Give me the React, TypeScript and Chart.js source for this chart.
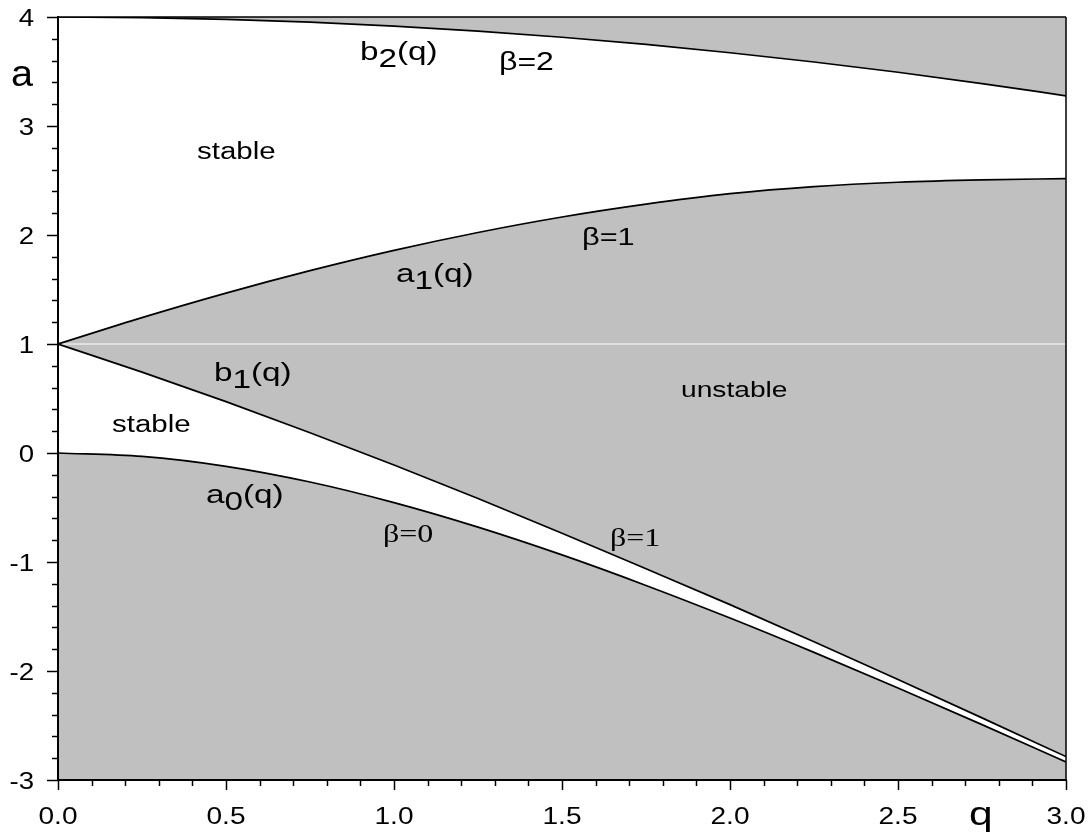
import React, { useEffect, useRef } from "react";
import { Chart, registerables } from "chart.js";

Chart.register(...registerables);

// ---- data ----
const qValues = [0, 0.25, 0.5, 0.75, 1, 1.25, 1.5, 1.75, 2, 2.25, 2.5, 2.75, 3];
const a0Values = [0, -0.031, -0.122, -0.266, -0.455, -0.68, -0.935, -1.215, -1.514, -1.829, -2.156, -2.492, -2.834];
const b1Values = [1, 0.742, 0.471, 0.186, -0.11, -0.418, -0.736, -1.062, -1.391, -1.731, -2.078, -2.43, -2.785];
const a1Values = [1, 1.242, 1.467, 1.673, 1.859, 2.023, 2.165, 2.283, 2.379, 2.444, 2.484, 2.506, 2.517];
const b2Values = [4, 3.995, 3.979, 3.953, 3.917, 3.871, 3.814, 3.748, 3.672, 3.587, 3.493, 3.389, 3.277];
const seamLevel = 1;

const xTickValues = [0, 0.5, 1, 1.5, 2, 2.5, 3];
const xTickLabels = ["0.0", "0.5", "1.0", "1.5", "2.0", "2.5", "3.0"];
const yTickValues = [-3, -2, -1, 0, 1, 2, 3, 4];
const yTickLabels = ["-3", "-2", "-1", "0", "1", "2", "3", "4"];
const xMinorStep = 0.1;
const yMinorStep = 0.2;

// ---- styles ----
const SANS = '"Liberation Sans", Arial, Helvetica, sans-serif';
const SERIF = '"Liberation Serif", "Times New Roman", serif';
const GRAY = "#c0c0c0";
const STRETCH = 1.28;

type Part = { t: string; sub?: boolean };
type Note = { parts: Part[]; x: number; y: number; size: number; family: string };

const notes: Note[] = [
  { parts: [{ t: "b" }, { t: "2", sub: true }, { t: "(q)" }], x: 360, y: 60, size: 26, family: SANS },
  { parts: [{ t: "β=2" }], x: 499, y: 70, size: 25, family: SANS },
  { parts: [{ t: "stable" }], x: 197, y: 159, size: 23, family: SANS },
  { parts: [{ t: "β=1" }], x: 582, y: 245, size: 24, family: SANS },
  { parts: [{ t: "a" }, { t: "1", sub: true }, { t: "(q)" }], x: 396, y: 282, size: 26, family: SANS },
  { parts: [{ t: "unstable" }], x: 681, y: 397, size: 22, family: SANS },
  { parts: [{ t: "b" }, { t: "1", sub: true }, { t: "(q)" }], x: 214, y: 381, size: 26, family: SANS },
  { parts: [{ t: "stable" }], x: 112, y: 432, size: 23, family: SANS },
  { parts: [{ t: "a" }, { t: "0", sub: true }, { t: "(q)" }], x: 206, y: 503, size: 26, family: SANS },
  { parts: [{ t: "β=0" }], x: 383, y: 542, size: 25, family: SERIF },
  { parts: [{ t: "β=1" }], x: 610, y: 546, size: 25, family: SERIF },
];

function drawText(
  ctx: CanvasRenderingContext2D,
  text: string,
  x: number,
  y: number,
  size: number,
  family: string,
  align: CanvasTextAlign = "left",
  stretch: number = STRETCH
): number {
  ctx.save();
  ctx.font = `${size}px ${family}`;
  ctx.textAlign = align;
  ctx.textBaseline = "alphabetic";
  ctx.fillStyle = "#000";
  const w = ctx.measureText(text).width * stretch;
  ctx.translate(x, y);
  ctx.scale(stretch, 1);
  ctx.fillText(text, 0, 0);
  ctx.restore();
  return w;
}

const axesPlugin = {
  id: "mathieuAxes",
  afterDraw(chart: any) {
    const { ctx, chartArea, scales } = chart;
    const { left, right, top, bottom } = chartArea;
    const xs = scales.x;
    const ys = scales.y;
    ctx.save();
    ctx.strokeStyle = "#000";
    ctx.lineCap = "butt";

    // frame (top & right)
    ctx.lineWidth = 1.5;
    ctx.beginPath();
    ctx.moveTo(left, top);
    ctx.lineTo(right, top);
    ctx.moveTo(right, top);
    ctx.lineTo(right, bottom);
    ctx.stroke();

    // axes
    ctx.lineWidth = 2;
    ctx.beginPath();
    ctx.moveTo(left, top - 1);
    ctx.lineTo(left, bottom + 1);
    ctx.moveTo(left - 1, bottom);
    ctx.lineTo(right + 1, bottom);
    ctx.stroke();

    // y ticks
    ctx.lineWidth = 1.5;
    const yMin = yTickValues[0];
    const yMax = yTickValues[yTickValues.length - 1];
    const nY = Math.round((yMax - yMin) / yMinorStep);
    for (let i = 0; i <= nY; i++) {
      const v = yMin + i * yMinorStep;
      const py = Math.round(ys.getPixelForValue(v)) + 0.5;
      const major = Math.abs(v - Math.round(v)) < 1e-6;
      ctx.beginPath();
      ctx.moveTo(left - (major ? 11 : 6), py);
      ctx.lineTo(left, py);
      ctx.stroke();
    }
    // x ticks
    const xMin = xTickValues[0];
    const xMax = xTickValues[xTickValues.length - 1];
    const nX = Math.round((xMax - xMin) / xMinorStep);
    for (let i = 0; i <= nX; i++) {
      const v = xMin + i * xMinorStep;
      const px = Math.round(xs.getPixelForValue(v)) + 0.5;
      const major = i % 5 === 0;
      ctx.beginPath();
      ctx.moveTo(px, bottom);
      ctx.lineTo(px, bottom + (major ? 10 : 6));
      ctx.stroke();
    }
    ctx.restore();

    // tick labels
    yTickValues.forEach((v, i) => {
      const py = ys.getPixelForValue(v);
      drawText(ctx, yTickLabels[i], 34, py + 8.5, 23, SANS, "right", 1.2);
    });
    xTickValues.forEach((v, i) => {
      const px = xs.getPixelForValue(v);
      drawText(ctx, xTickLabels[i], px, bottom + 44, 23, SANS, "center", 1.22);
    });

    // axis titles
    drawText(ctx, "a", 11, 86, 36, SANS, "left", 1.1);
    drawText(ctx, "q", 969, 825, 34, SANS, "left", 1.25);

    // annotations
    notes.forEach((n) => {
      let cx = n.x;
      n.parts.forEach((p) => {
        const w = drawText(ctx, p.t, cx, n.y + (p.sub ? 7 : 0), n.size, n.family, "left");
        cx += w;
      });
    });
  },
};

function pts(vals: number[]) {
  return qValues.map((q, i) => ({ x: q, y: vals[i] }));
}

export default function App() {
  const canvasRef = useRef<HTMLCanvasElement | null>(null);

  useEffect(() => {
    const canvas = canvasRef.current;
    if (!canvas) return;
    const lineCommon = {
      borderColor: "#000",
      borderWidth: 1.7,
      pointRadius: 0,
      pointHoverRadius: 0,
      cubicInterpolationMode: "monotone" as const,
    };
    const chart = new Chart(canvas, {
      type: "line",
      data: {
        datasets: [
          { ...lineCommon, label: "a1(q)", data: pts(a1Values), fill: "+1", backgroundColor: GRAY },
          { ...lineCommon, label: "b1(q)", data: pts(b1Values), fill: false },
          { ...lineCommon, label: "b2(q)", data: pts(b2Values), fill: "end", backgroundColor: GRAY },
          { ...lineCommon, label: "a0(q)", data: pts(a0Values), fill: "start", backgroundColor: GRAY },
          {
            label: "seam",
            data: pts(qValues.map(() => seamLevel)),
            borderColor: "#ffffff",
            borderWidth: 1,
            pointRadius: 0,
            fill: false,
          },
        ],
      },
      options: {
        responsive: false,
        animation: false,
        events: [],
        layout: { padding: { left: 58, right: 25, top: 17, bottom: 54 } },
        plugins: {
          legend: { display: false },
          tooltip: { enabled: false },
          filler: { drawTime: "beforeDatasetsDraw" },
        },
        scales: {
          x: { type: "linear", min: 0, max: 3, display: false },
          y: { type: "linear", min: -3, max: 4, display: false },
        },
      } as any,
      plugins: [axesPlugin],
    });
    return () => chart.destroy();
  }, []);

  return (
    <div style={{ position: "absolute", left: 0, top: 0, width: 1091, height: 834, background: "#fff" }}>
      <canvas ref={canvasRef} width={1091} height={834} style={{ display: "block" }} />
    </div>
  );
}
